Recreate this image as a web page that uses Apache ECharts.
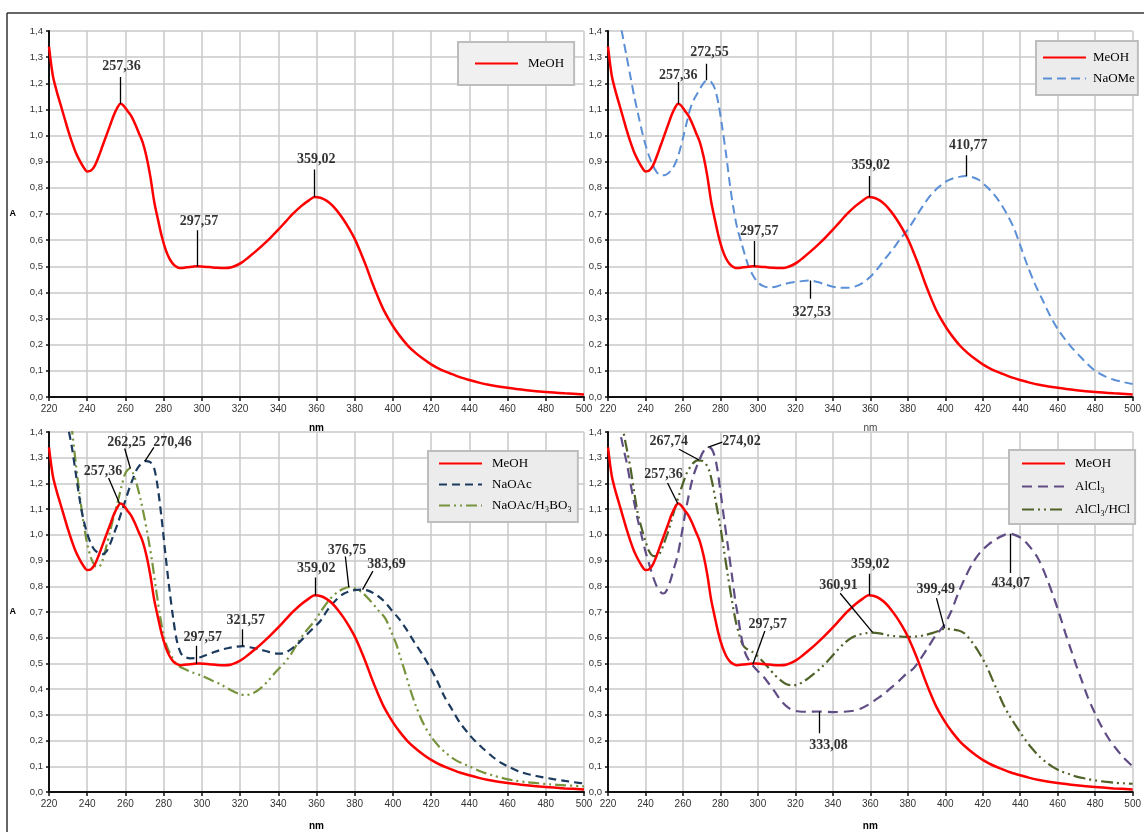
<!DOCTYPE html>
<html><head><meta charset="utf-8">
<script src="https://cdn.jsdelivr.net/npm/echarts@6/dist/echarts.min.js"></script>
<style>html,body{margin:0;padding:0;background:#fff}#c{width:1144px;height:832px}</style>
</head><body><div id="c"></div>
<script>
// ---------- data (wavelength nm / absorbance A) ----------
const meohNm = [220,222,224,226,228,230,232,234,236,238,240,242,244,246,248,250,252,254,256,257.4,259,261,263,265,267,269,271,273,275,277,279,281,283,285,287,289,292,295,297.6,300,304,308,312,315,318,321,324,328,332,336,340,344,348,352,356,359,362,365,368,371,374,377,380,383,386,389,392,395,398,401,404,408,412,416,420,425,430,435,440,445,450,460,470,480,490,500];
const meohA  = [1.34,1.23,1.17,1.12,1.07,1.02,0.975,0.935,0.905,0.88,0.863,0.866,0.885,0.92,0.96,1.0,1.04,1.08,1.11,1.122,1.115,1.095,1.075,1.045,1.01,0.975,0.92,0.845,0.75,0.68,0.615,0.565,0.53,0.508,0.497,0.493,0.496,0.498,0.5,0.499,0.497,0.494,0.493,0.495,0.503,0.515,0.532,0.556,0.582,0.61,0.64,0.672,0.703,0.73,0.752,0.765,0.762,0.752,0.735,0.71,0.68,0.645,0.605,0.555,0.5,0.44,0.385,0.335,0.295,0.26,0.23,0.195,0.168,0.145,0.125,0.105,0.09,0.076,0.065,0.055,0.047,0.035,0.026,0.019,0.014,0.01];

const naomeNm = [220,222,224,226,228,230,232,234,236,238,240,242,244,246,248,250,252,254,256,258,260,262,264,266,268,270,272.5,275,277,279,281,283,285,287,289,291,293,295,297,300,303,306,310,314,318,322,327.5,332,336,340,344,348,352,356,360,364,368,372,376,380,384,388,392,396,400,404,408,411,414,418,422,426,430,434,437,440,444,448,452,456,460,464,468,472,476,480,485,490,495,500];
const naomeA  = [1.72,1.63,1.54,1.45,1.375,1.3,1.225,1.15,1.085,1.02,0.965,0.92,0.885,0.86,0.848,0.848,0.855,0.87,0.895,0.935,0.99,1.05,1.105,1.14,1.165,1.19,1.21,1.205,1.18,1.12,1.03,0.93,0.815,0.72,0.645,0.595,0.545,0.5,0.47,0.438,0.424,0.419,0.423,0.432,0.438,0.442,0.446,0.44,0.43,0.422,0.418,0.418,0.423,0.437,0.46,0.492,0.53,0.565,0.605,0.64,0.685,0.73,0.77,0.8,0.823,0.836,0.843,0.845,0.842,0.83,0.805,0.775,0.735,0.685,0.64,0.58,0.5,0.43,0.37,0.31,0.26,0.22,0.185,0.155,0.125,0.1,0.08,0.066,0.057,0.05];

const naoacNm = [220,222,224,226,228,230,232,234,236,238,240,242,244,246,248,250,252,254,256,258,260,262,264,266,268,270.5,273,275,277,279,281,283,285,287,289,291,294,298,302,306,310,314,318,321.6,325,330,335,340,343,346,350,354,358,362,366,370,374,378,381,383.7,387,391,395,399,403,407,411,415,419,423,427,431,435,439,443,447,452,456,460,466,472,478,484,490,495,500];
const naoacA  = [1.9,1.8,1.72,1.62,1.52,1.42,1.34,1.24,1.14,1.06,1.005,0.965,0.94,0.93,0.925,0.935,0.965,1.005,1.045,1.09,1.135,1.18,1.22,1.255,1.275,1.287,1.283,1.26,1.18,1.06,0.92,0.79,0.675,0.585,0.54,0.525,0.52,0.522,0.532,0.543,0.553,0.56,0.565,0.567,0.563,0.555,0.545,0.538,0.54,0.552,0.575,0.605,0.635,0.665,0.71,0.745,0.77,0.782,0.786,0.787,0.783,0.768,0.745,0.71,0.675,0.633,0.585,0.54,0.49,0.435,0.37,0.32,0.27,0.232,0.198,0.17,0.138,0.116,0.1,0.08,0.067,0.058,0.05,0.043,0.038,0.033];

const boricNm = [220,224,228,230,232,234,236,238,240,242,244,246,248,250,252,254,256,258,260,262.25,264,266,268,270,272,274,276,278,280,282,284,286,288,291,295,300,305,310,315,320,323,327,331,335,339,343,347,351,355,359,363,367,371,374,376.75,380,384,388,392,396,399,402,404,406,409,412,416,420,424,428,432,436,440,446,452,458,464,470,476,482,490,500];
const boricA  = [1.95,1.8,1.62,1.52,1.41,1.28,1.16,1.05,0.965,0.91,0.88,0.875,0.9,0.955,1.015,1.075,1.13,1.19,1.24,1.258,1.24,1.195,1.135,1.065,0.985,0.895,0.79,0.69,0.61,0.56,0.53,0.505,0.49,0.478,0.465,0.452,0.435,0.418,0.397,0.38,0.377,0.385,0.405,0.435,0.47,0.5,0.54,0.59,0.63,0.665,0.71,0.75,0.777,0.79,0.797,0.792,0.775,0.745,0.71,0.675,0.625,0.57,0.52,0.475,0.4,0.335,0.265,0.215,0.178,0.15,0.128,0.112,0.1,0.08,0.065,0.053,0.044,0.038,0.034,0.03,0.026,0.022];

const alcl3Nm = [220,222,224,226,228,230,232,234,236,238,240,242,244,246,248,249.5,251,253,255,257,259,261,263,265,267,269,271,274,276,278,280,282,284,286,288,289,291,293,295,297.5,300,303,306,309,312,315,318,322,326,333,340,346,351,355,359,363,367,371,375,379,383,387,391,395,399,403,407,411,415,419,423,427,431,434,437,441,445,449,452,455,458,461,464,467,470,473,476,479,483,487,491,495,500];
const alcl3A  = [1.75,1.66,1.55,1.42,1.345,1.28,1.2,1.125,1.055,0.995,0.935,0.885,0.838,0.8,0.778,0.772,0.78,0.815,0.865,0.915,0.99,1.075,1.15,1.215,1.26,1.295,1.325,1.34,1.325,1.27,1.17,1.06,0.955,0.85,0.74,0.7,0.61,0.545,0.515,0.49,0.47,0.448,0.42,0.39,0.358,0.335,0.32,0.313,0.312,0.313,0.311,0.312,0.316,0.325,0.34,0.36,0.38,0.405,0.43,0.458,0.48,0.52,0.565,0.61,0.645,0.7,0.775,0.84,0.895,0.935,0.962,0.983,0.998,1.005,1.0,0.985,0.955,0.915,0.87,0.815,0.755,0.69,0.62,0.555,0.49,0.43,0.37,0.32,0.26,0.21,0.17,0.135,0.1];

const alhclNm = [220,222,224,226,228,230,232,234,236,238,240,242,244,246,248,250,252,254,256,258,260,262,264,266,267.7,270,272,274,276,278,280,282,284,286,288,290,292,294,297,300,303,306,309,312,315,318,321,324,327,330,334,338,342,346,350,354,358,361,365,369,373,377,381,385,389,393,397,399.5,403,407,410,413,416,419,422,425,428,431,434,437,440,443,446,450,454,458,462,466,470,475,480,485,490,495,500];
const alhclA  = [1.8,1.7,1.6,1.5,1.41,1.335,1.26,1.165,1.08,1.025,0.975,0.935,0.918,0.917,0.932,0.97,1.01,1.06,1.11,1.157,1.2,1.24,1.265,1.283,1.29,1.288,1.278,1.25,1.19,1.11,1.03,0.935,0.84,0.75,0.67,0.612,0.572,0.557,0.545,0.527,0.505,0.48,0.455,0.435,0.42,0.415,0.417,0.428,0.443,0.46,0.485,0.515,0.548,0.578,0.6,0.612,0.618,0.62,0.617,0.61,0.606,0.604,0.603,0.605,0.61,0.618,0.628,0.635,0.633,0.628,0.618,0.595,0.565,0.53,0.49,0.44,0.39,0.34,0.3,0.265,0.232,0.2,0.172,0.14,0.115,0.095,0.08,0.07,0.06,0.052,0.045,0.04,0.036,0.034,0.032];

// peak labels: [text, label nm, label A, leader from nm, from A, to nm, to A]
const peaksTL = [
  ['257,36', 258.0, 1.266, 257.2, 1.224, 257.2, 1.122],
  ['297,57', 298.5, 0.673, 297.6, 0.638, 297.6, 0.499],
  ['359,02', 359.9, 0.909, 358.9, 0.870, 358.9, 0.765]
];
const peaksTR = [
  ['257,36', 257.5, 1.231, 257.4, 1.205, 257.4, 1.122],
  ['272,55', 274.2, 1.320, 272.6, 1.275, 272.6, 1.212],
  ['359,02', 360.2, 0.886, 359.4, 0.845, 359.4, 0.765],
  ['410,77', 412.2, 0.963, 411.0, 0.925, 411.0, 0.845],
  ['297,57', 300.7, 0.635, 297.8, 0.597, 297.8, 0.499],
  ['327,53', 328.7, 0.325, 328.0, 0.446, 328.0, 0.376]
];
const peaksBL = [
  ['257,36', 248.2, 1.248, 251.2, 1.221, 256.9, 1.122],
  ['262,25', 260.6, 1.359, 259.6, 1.336, 262.6, 1.258],
  ['270,46', 284.6, 1.359, 274.9, 1.340, 270.2, 1.287],
  ['359,02', 359.9, 0.868, 359.5, 0.834, 359.5, 0.765],
  ['376,75', 376.0, 0.941, 375.1, 0.916, 376.9, 0.797],
  ['383,69', 396.7, 0.887, 389.5, 0.859, 384.1, 0.787],
  ['321,57', 323.0, 0.668, 321.1, 0.633, 321.1, 0.567],
  ['297,57', 300.5, 0.601, 297.1, 0.569, 297.1, 0.499]
];
const peaksBR = [
  ['267,74', 252.4, 1.365, 257.9, 1.333, 268.6, 1.291],
  ['274,02', 291.3, 1.365, 281.0, 1.361, 273.2, 1.340],
  ['257,36', 249.6, 1.234, 251.8, 1.202, 257.3, 1.121],
  ['359,02', 360.0, 0.887, 359.2, 0.849, 359.2, 0.765],
  ['360,91', 343.0, 0.805, 343.9, 0.773, 361.2, 0.621],
  ['399,49', 394.9, 0.786, 395.3, 0.754, 399.6, 0.636],
  ['434,07', 434.9, 0.811, 434.5, 1.004, 434.5, 0.852],
  ['297,57', 305.3, 0.652, 303.7, 0.626, 297.3, 0.497],
  ['333,08', 337.7, 0.181, 332.8, 0.313, 332.8, 0.228]
];

// ---------- helpers ----------
const pairs = (nm, a) => nm.map((x, i) => [x, a[i]]);
const SERIF = "'Liberation Serif','Times New Roman',serif";
const SANS = "'Liberation Sans',Arial,sans-serif";

const styles = {
  'MeOH':  {color: '#ff0000', width: 2.5, type: 'solid'},
  'NaOMe': {color: '#5b8fd6', width: 2, type: [9, 5]},
  'NaOAc': {color: '#1c3a5e', width: 2.2, type: [8, 5]},
  'NaOAc/H₃BO₃': {color: '#77933c', width: 2.2, type: [11, 4, 2, 4, 2, 4]},
  'AlCl₃': {color: '#604d86', width: 2.2, type: [10, 6]},
  'AlCl₃/HCl': {color: '#4f6228', width: 2.2, type: [12, 4, 2, 4, 2, 4]}
};

function curve(name, nm, a, gi) {
  const s = styles[name];
  return {
    type: 'line', name, xAxisIndex: gi, yAxisIndex: gi,
    data: pairs(nm, a), symbol: 'none', showSymbol: false,
    smooth: 0.3, clip: true, z: 3, color: s.color,
    lineStyle: {color: s.color, width: s.width, type: s.type, cap: 'butt'},
    emphasis: {disabled: true}
  };
}
function leaders(list, gi) {
  return {
    type: 'lines', coordinateSystem: 'cartesian2d', xAxisIndex: gi, yAxisIndex: gi,
    silent: true, z: 6,
    lineStyle: {color: '#000', width: 1.3, opacity: 1, curveness: 0},
    data: list.map(p => ({coords: [[p[3], p[4]], [p[5], p[6]]]}))
  };
}
function peakTexts(list, gi) {
  return {
    type: 'scatter', xAxisIndex: gi, yAxisIndex: gi, silent: true, z: 7,
    symbolSize: 1, itemStyle: {color: 'rgba(0,0,0,0)'},
    data: list.map(p => ({value: [p[1], p[2]], name: p[0]})),
    label: {show: true, position: 'inside', formatter: '{b}',
      fontFamily: SERIF, fontSize: 14, fontWeight: 'bold', color: '#000'}
  };
}

const grids = [
  {left: 49, top: 31, width: 535, height: 366},
  {left: 608, top: 31, width: 535, height: 366},
  {left: 49, top: 432, width: 535, height: 367},
  {left: 608, top: 432, width: 535, height: 367}
];
const nmStyle = [
  {fontWeight: 'bold', fontSize: 10, color: '#000', fontFamily: SANS},
  {fontWeight: 'normal', fontSize: 10, color: '#444', fontFamily: SANS},
  {fontWeight: 'bold', fontSize: 10, color: '#000', fontFamily: SANS},
  {fontWeight: 'bold', fontSize: 10, color: '#000', fontFamily: SANS}
];
const xAxes = grids.map((g, i) => ({
  type: 'value', gridIndex: i, min: 220, max: 500, interval: 20,
  name: 'nm', nameLocation: 'middle', nameGap: i < 2 ? 26 : 29, nameTextStyle: nmStyle[i],
  axisLine: {onZero: false, lineStyle: {color: '#111', width: 2}},
  axisTick: {length: 4, lineStyle: {color: '#111', width: 1.5}},
  axisLabel: {fontSize: 10, color: '#333', margin: 7, fontFamily: SANS},
  splitLine: {show: true, lineStyle: {color: '#c8c8c8', width: 1.5}}
}));
const yAxes = grids.map((g, i) => ({
  type: 'value', gridIndex: i, min: 0, max: 1.4, interval: 0.1,
  name: (i === 0 || i === 2) ? 'A' : '', nameLocation: 'middle', nameRotate: 0, nameGap: 33,
  nameTextStyle: {fontWeight: 'bold', fontSize: 9, color: '#000', fontFamily: SANS, padding: [i === 2 ? 16 : 12, 0, 0, 0]},
  axisLine: {show: true, onZero: false, lineStyle: {color: '#111', width: 2}},
  axisTick: {show: true, length: 3, lineStyle: {color: '#111', width: 1.5}},
  axisLabel: {fontSize: 9.5, color: '#333', margin: 6, fontFamily: SANS,
    formatter: v => v.toFixed(1).replace('.', ',')},
  splitLine: {show: true, lineStyle: {color: '#c8c8c8', width: 1.5}}
}));

function legendBox(names, left, top, padding, gap, textPad, bg) {
  return {
    data: names, orient: 'vertical', left, top, padding, itemGap: gap,
    itemWidth: 43, itemHeight: 14, selectedMode: false,
    backgroundColor: bg, borderColor: '#bdbdbd', borderWidth: 2, borderRadius: 0,
    itemStyle: {opacity: 0},
    textStyle: {fontFamily: SERIF, fontSize: 13, color: '#000', padding: [0, 0, 0, textPad]}
  };
}

const series = [
  curve('MeOH', meohNm, meohA, 0),
  leaders(peaksTL, 0), peakTexts(peaksTL, 0),

  curve('NaOMe', naomeNm, naomeA, 1),
  curve('MeOH', meohNm, meohA, 1),
  leaders(peaksTR, 1), peakTexts(peaksTR, 1),

  curve('NaOAc/H₃BO₃', boricNm, boricA, 2),
  curve('NaOAc', naoacNm, naoacA, 2),
  curve('MeOH', meohNm, meohA, 2),
  leaders(peaksBL, 2), peakTexts(peaksBL, 2),

  curve('AlCl₃/HCl', alhclNm, alhclA, 3),
  curve('AlCl₃', alcl3Nm, alcl3A, 3),
  curve('MeOH', meohNm, meohA, 3),
  leaders(peaksBR, 3), peakTexts(peaksBR, 3)
];

const chart = echarts.init(document.getElementById('c'), null, {renderer: 'canvas'});
chart.setOption({
  backgroundColor: '#fff',
  animation: false,
  grid: grids,
  xAxis: xAxes,
  yAxis: yAxes,
  legend: [
    legendBox(['MeOH'], 458, 42, [15, 10, 15, 16], 8, 5, '#f0f0f0'),
    legendBox(['MeOH', 'NaOMe'], 1036, 41, [10, 3, 10, 6], 8, 2, '#ececec'),
    legendBox(['MeOH', 'NaOAc', 'NaOAc/H₃BO₃'], 428, 451, [6, 6, 10, 10], 8, 5, '#ececec'),
    legendBox(['MeOH', 'AlCl₃', 'AlCl₃/HCl'], 1009, 450, [7, 5, 8, 12], 10, 5, '#ececec')
  ],
  graphic: [
    {type: 'line', shape: {x1: 7, y1: 13, x2: 1144, y2: 13}, style: {stroke: '#333', lineWidth: 1.5}, silent: true},
    {type: 'line', shape: {x1: 7, y1: 13, x2: 7, y2: 832}, style: {stroke: '#333', lineWidth: 1.5}, silent: true}
  ],
  series
});
</script></body></html>
